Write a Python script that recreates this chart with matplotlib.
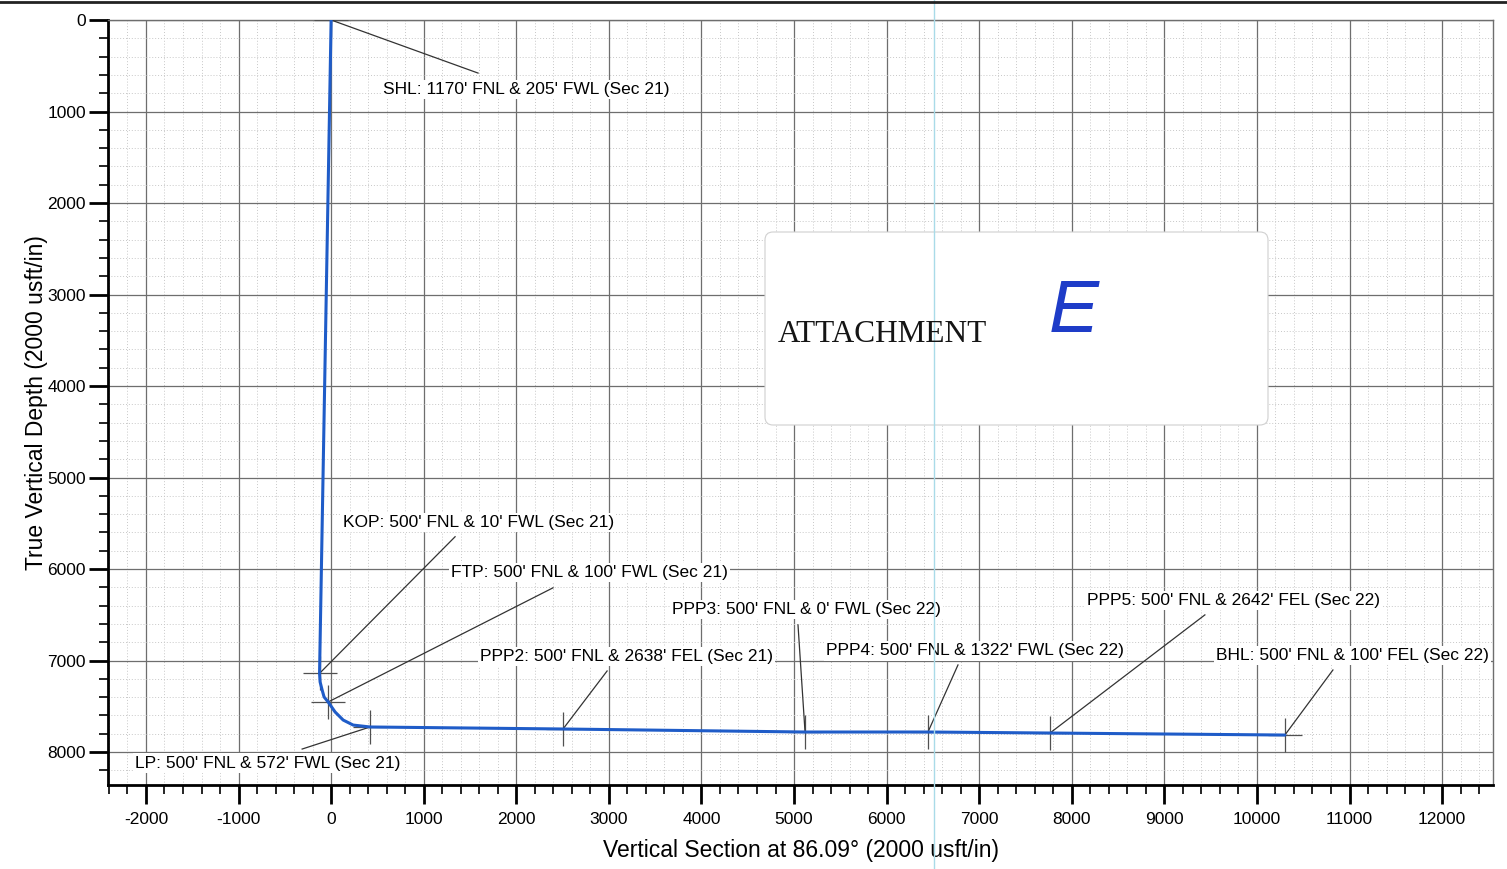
import matplotlib
matplotlib.use("Agg")
import matplotlib.pyplot as plt
from matplotlib.patches import FancyBboxPatch
from matplotlib.lines import Line2D
from matplotlib.transforms import IdentityTransform
from matplotlib.ticker import MultipleLocator

plt.rcParams['font.family'] = ['Liberation Sans', 'DejaVu Sans']
plt.rcParams['axes.unicode_minus'] = False

# well path (vertical section vs true vertical depth)
path_vs = [0, -125, -119, -97, -76, -32, 43, 130, 238, 421, 2505, 5119, 6447, 7765, 10302]
path_tvd = [0, 7140, 7234, 7322, 7398, 7453, 7562, 7650, 7705, 7726, 7748, 7781, 7781, 7792, 7814]

# labelled points
point_names = ['SHL', 'KOP', 'FTP', 'LP', 'PPP2', 'PPP3', 'PPP4', 'PPP5', 'BHL']
point_vs = [0, -125, -32, 421, 2505, 5119, 6447, 7765, 10302]
point_tvd = [0, 7140, 7453, 7726, 7748, 7781, 7781, 7792, 7814]
point_labels = [
    "SHL: 1170' FNL & 205' FWL (Sec 21)",
    "KOP: 500' FNL & 10' FWL (Sec 21)",
    "FTP: 500' FNL & 100' FWL (Sec 21)",
    "LP: 500' FNL & 572' FWL (Sec 21)",
    "PPP2: 500' FNL & 2638' FEL (Sec 21)",
    "PPP3: 500' FNL & 0' FWL (Sec 22)",
    "PPP4: 500' FNL & 1322' FWL (Sec 22)",
    "PPP5: 500' FNL & 2642' FEL (Sec 22)",
    "BHL: 500' FNL & 100' FEL (Sec 22)",
]

# label layout: text anchor (left, centre) and leader end, in data units
label_xy = [(562, 755), (130, 5494), (1296, 6041), (-2117, 8120), (1609, 6960),
            (3683, 6446), (5346, 6895), (8164, 6347), (9557, 6949)]
leader_xy = [(1587, 580), (1339, 5647), (2397, 6205), (-313, 7967), (2981, 7114),
             (5043, 6610), (6771, 7048), (9438, 6501), (10821, 7103)]

fig = plt.figure(figsize=(15.07, 8.69), dpi=100)
ax = fig.add_axes([108 / 1507, 1 - 785 / 869, 1385 / 1507, 765 / 869])

ax.set_xlim(-2410, 12550)
ax.set_ylim(8360, 0)

ax.xaxis.set_major_locator(MultipleLocator(1000))
ax.xaxis.set_minor_locator(MultipleLocator(200))
ax.yaxis.set_major_locator(MultipleLocator(1000))
ax.yaxis.set_minor_locator(MultipleLocator(200))

ax.grid(which='major', color='#6e6e6e', lw=0.9, zorder=0)
ax.grid(which='minor', color='#c8c8c8', lw=0.7, ls=(0, (1, 2)), zorder=0)
ax.set_axisbelow(True)

ax.tick_params(which='major', direction='out', length=14, width=2, labelsize=12.5,
               colors='black')
ax.tick_params(axis='x', which='major', pad=5.5)
ax.tick_params(axis='y', which='major', pad=2)
ax.tick_params(which='minor', direction='out', length=6.5, width=1.2, colors='black')
for s in ['left', 'bottom']:
    ax.spines[s].set_linewidth(2)
    ax.spines[s].set_color('black')
for s in ['top', 'right']:
    ax.spines[s].set_linewidth(1)
    ax.spines[s].set_color('#6e6e6e')

ax.set_xlabel('Vertical Section at 86.09° (2000 usft/in)', fontsize=16.5)
ax.set_ylabel('True Vertical Depth (2000 usft/in)', fontsize=16.5)
ax.xaxis.set_label_coords(0.5, -0.071)
ax.yaxis.set_label_coords(-0.043, 0.5)

# well path
ax.plot(path_vs, path_tvd, color='#1f5cc8', lw=2.2, zorder=6,
        solid_capstyle='round', solid_joinstyle='round')

# markers, leaders and labels
ax.plot(point_vs, point_tvd, ls='none', marker='+', ms=25, mew=0.9,
        color='#505050', zorder=5)
for name, x, y, txt, (tx, ty), (lx, ly) in zip(point_names, point_vs, point_tvd,
                                                 point_labels, label_xy, leader_xy):
    ax.plot([x, lx], [y, ly], color='#333333', lw=0.9, zorder=5)
    ax.text(tx, ty, txt, fontsize=12.5, ha='left', va='center', zorder=4,
            bbox=dict(fc='white', ec='none', pad=1.5))

# attachment sticker
box = FancyBboxPatch((765, 869 - 425), 503, 193,
                     boxstyle='round,pad=0,rounding_size=8',
                     fc='white', ec='#d0d0d0', lw=0.8, transform=IdentityTransform())
fig.add_artist(box)
fig.text(778 / 1507, 1 - 342 / 869, 'ATTACHMENT', family='Liberation Serif',
         fontsize=22.5, ha='left', va='baseline', color='#151515')
fig.text(1074 / 1507, 1 - 312 / 869, 'E', fontsize=54, ha='center', va='center',
         color='#1e3cc8', style='italic')

# scan edges
fig.add_artist(Line2D([934 / 1507, 934 / 1507], [0, 1], color='#a9dbe8', lw=1,
                      transform=fig.transFigure))
fig.add_artist(Line2D([0, 1], [0.998, 0.998], color='#222222', lw=2,
                      transform=fig.transFigure))

fig.savefig('out.png', dpi=100)
